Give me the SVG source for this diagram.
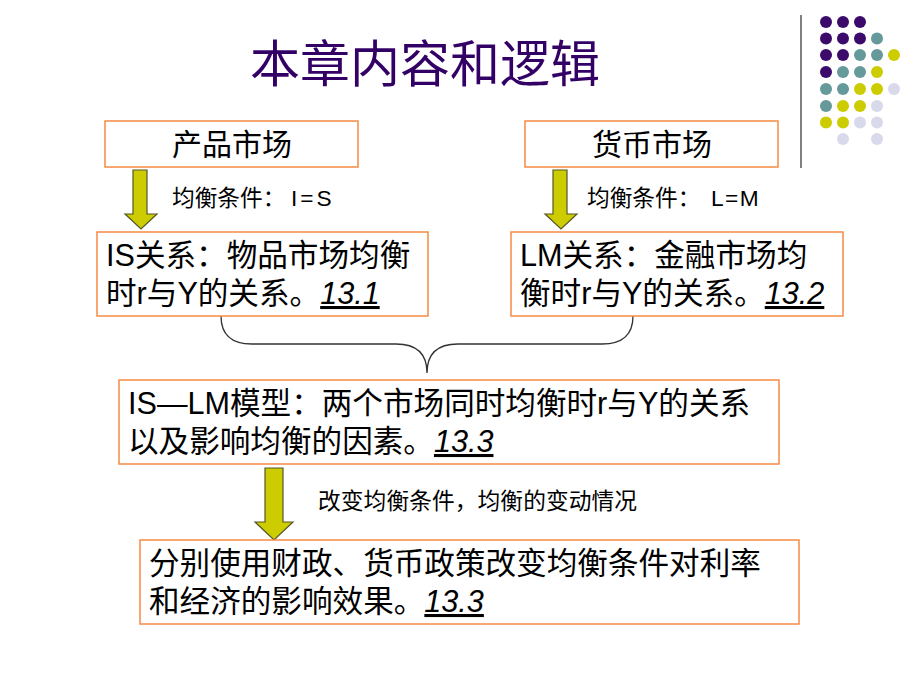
<svg xmlns="http://www.w3.org/2000/svg" width="920" height="690" viewBox="0 0 920 690">
<defs>
<style>
.box{fill:#ffffff;stroke:#f68b45;stroke-width:1.5}
.t{font-family:"Liberation Sans","Noto Sans CJK SC",sans-serif;fill:#000}
.bt{font-size:30.6px}
.ht{font-size:30px}
.lb{font-size:22.7px}
.num{font-style:italic;text-decoration:underline}
.arrow{fill:#cccc00;stroke:#55552a;stroke-width:1.2}
.p{fill:#3b0a6b}.g{fill:#669999}.y{fill:#cccc00}.l{fill:#d9d9ec}
</style>
</defs>
<rect width="920" height="690" fill="#ffffff"/>
<g id="decor">
<line x1="801" y1="15" x2="801" y2="168" stroke="#808080" stroke-width="2"/>
<circle class="p" cx="826" cy="22" r="6"/><circle class="p" cx="843" cy="22" r="6"/><circle class="p" cx="860" cy="22" r="6"/>
<circle class="p" cx="826" cy="38.5" r="6"/><circle class="p" cx="843" cy="38.5" r="6"/><circle class="p" cx="860" cy="38.5" r="6"/><circle class="g" cx="877" cy="38.5" r="6"/>
<circle class="p" cx="826" cy="55" r="6"/><circle class="p" cx="843" cy="55" r="6"/><circle class="g" cx="860" cy="55" r="6"/><circle class="g" cx="877" cy="55" r="6"/><circle class="y" cx="894" cy="55" r="6"/>
<circle class="p" cx="826" cy="72" r="6"/><circle class="g" cx="843" cy="72" r="6"/><circle class="g" cx="860" cy="72" r="6"/><circle class="y" cx="877" cy="72" r="6"/>
<circle class="g" cx="826" cy="89" r="6"/><circle class="g" cx="843" cy="89" r="6"/><circle class="y" cx="860" cy="89" r="6"/><circle class="y" cx="877" cy="89" r="6"/><circle class="l" cx="894" cy="89" r="6"/>
<circle class="g" cx="826" cy="106" r="6"/><circle class="y" cx="843" cy="106" r="6"/><circle class="y" cx="860" cy="106" r="6"/><circle class="l" cx="877" cy="106" r="6"/>
<circle class="y" cx="826" cy="122.5" r="6"/><circle class="y" cx="843" cy="122.5" r="6"/><circle class="l" cx="860" cy="122.5" r="6"/><circle class="l" cx="877" cy="122.5" r="6"/>
<circle class="l" cx="843" cy="139" r="6"/><circle class="l" cx="877" cy="139" r="6"/>
</g>
<g id="title">
<text x="425" y="82" text-anchor="middle" font-family="'Noto Sans CJK SC',sans-serif" font-size="50" fill="#330066">本章内容和逻辑</text>
</g>
<g id="connectors">
<polygon class="arrow" points="133,170 147,170 147,214 157,214 141,229 125,214 133,214"/>
<polygon class="arrow" points="553,170 567,170 567,214 577,214 561,229 545,214 553,214"/>
<polygon class="arrow" points="265,468 283,468 283,522 293,522 274,540 255,522 265,522"/>
<path d="M221 316 Q221 344 252 344 L396 344 Q427 344 427 373 Q427 344 458 344 L602 344 Q633 344 633 316" fill="none" stroke="#333333" stroke-width="1.3"/>
<text class="t lb" x="172" y="206">均衡条件：<tspan x="291" letter-spacing="3">I=S</tspan></text>
<text class="t lb" x="587" y="206">均衡条件：<tspan x="711" letter-spacing="1.5">L=M</tspan></text>
<text class="t lb" x="318" y="509" textLength="319">改变均衡条件，均衡的变动情况</text>
</g>
<g id="n1">
<rect class="box" x="105" y="121" width="253" height="46"/>
<text class="t ht" x="232" y="155" text-anchor="middle">产品市场</text>
</g>
<g id="n2">
<rect class="box" x="525" y="121" width="253" height="46"/>
<text class="t ht" x="652" y="155" text-anchor="middle">货币市场</text>
</g>
<g id="n3">
<rect class="box" x="97" y="232" width="331" height="84"/>
<text class="t bt" x="106" y="266">IS关系：物品市场均衡</text>
<text class="t bt" x="106" y="304">时r与Y的关系。<tspan class="num">13.1</tspan></text>
</g>
<g id="n4">
<rect class="box" x="511" y="232" width="332" height="84"/>
<text class="t bt" x="520" y="266">LM关系：金融市场均</text>
<text class="t bt" x="520" y="304">衡时r与Y的关系。<tspan class="num">13.2</tspan></text>
</g>
<g id="n5">
<rect class="box" x="119" y="380" width="660" height="84"/>
<text class="t bt" x="128" y="414">IS—LM模型：两个市场同时均衡时r与Y的关系</text>
<text class="t bt" x="128" y="452">以及影响均衡的因素。<tspan class="num">13.3</tspan></text>
</g>
<g id="n6">
<rect class="box" x="140" y="540" width="659" height="84"/>
<text class="t bt" x="149" y="574">分别使用财政、货币政策改变均衡条件对利率</text>
<text class="t bt" x="149" y="612">和经济的影响效果。<tspan class="num">13.3</tspan></text>
</g>
</svg>
